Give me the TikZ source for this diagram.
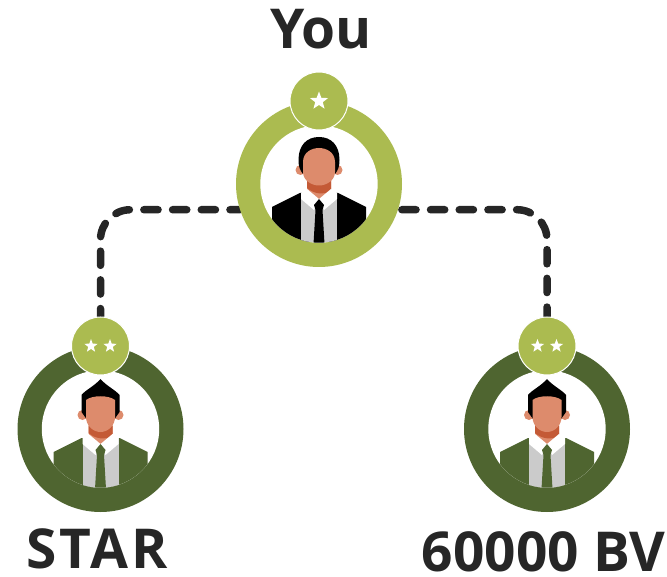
\documentclass[tikz,border=0pt]{standalone}
\usepackage{fontspec}
\setmainfont{Open Sans}
\usetikzlibrary{shapes.geometric,backgrounds}
\definecolor{lightgreen}{HTML}{ABBB50}
\definecolor{darkgreen}{HTML}{4F6530}
\definecolor{skin}{HTML}{DD8B6C}
\definecolor{neckshade}{HTML}{C45A36}
\definecolor{shirt}{HTML}{CBCBCB}
\definecolor{linegray}{HTML}{262626}
% bust clipped to the white disc of a ring: #1 suit and tie colour
\newcommand{\bust}[1]{
\clip (0,0) circle (58.7);
\fill[#1] (-47,58) -- (-47,23) -- (-19,9) -- (19,9) -- (47,23) -- (47,58) -- cycle;
\fill[shirt] (-18,9) rectangle (18,60);
\fill[skin] (-12,-12) -- (-12,9) -- (0,22) -- (12,9) -- (12,-12) -- cycle;
\fill[neckshade] (-12,-3) -- (12,-3) -- (12,7) .. controls (4,11) and (-5,10) .. (-12,4) -- cycle;
\fill[white] (-18,9) -- (-12,5) -- (0,15) -- (12,5) -- (18,9) -- (18,15) -- (5,26) -- (0,16) -- (-5,26) -- (-18,15) -- cycle;
\fill[#1] (0,15) -- (5,21) -- (3.5,26) -- (5.5,60) -- (-5.5,60) -- (-3.5,26) -- (-5,21) -- cycle;
}
\tikzset{
ring/.style={circle,inner sep=0pt,minimum size=166pt},
hole/.style={circle,inner sep=0pt,minimum size=117.4pt,fill=white},
badge/.style={circle,inner sep=0pt,minimum size=58pt,fill=lightgreen,draw=white,line width=1pt},
staricon/.style={star,star points=5,star point ratio=2.4,inner sep=0pt,minimum size=#1,fill=white},
dashlink/.style={line width=7.5pt,linegray,dash pattern=on 14.2pt off 14.5pt,line cap=round,rounded corners=30pt},
caption/.style={font=\fontsize{55}{55}\selectfont\bfseries,text=linegray,inner sep=0pt}
}
\begin{document}
\begin{tikzpicture}[x=1pt,y=-1pt]
\useasboundingbox (0,0) rectangle (667,577);
\node[ring,fill=lightgreen] (you) at (319,184) {};
\node[ring,fill=darkgreen] (left) at (100.5,429) {};
\node[ring,fill=darkgreen] (right) at (547,429) {};
\node[hole] (youhole) at (you) {};
\node[hole] (lefthole) at (left) {};
\node[hole] (righthole) at (right) {};
\begin{scope}[shift={(319,184)}]
\bust{black}
\fill[skin] (-18.5,-14) circle (5) (18.5,-14) circle (5);
\fill[black] (-16,-10) .. controls (-19,-14) and (-20.5,-17) .. (-20.5,-24) .. controls (-20.5,-39) and (-12,-47) .. (0,-47) .. controls (12,-47) and (20.5,-39) .. (20.5,-24) .. controls (20.5,-17) and (19,-14) .. (16,-10) -- cycle;
\fill[skin] (-16,-22) .. controls (-16,-32) and (-7,-36) .. (0,-36) .. controls (7,-36) and (16,-32) .. (16,-22) -- (16,-12) .. controls (16,-4) and (8,1.5) .. (0,1.5) .. controls (-8,1.5) and (-16,-4) .. (-16,-12) -- cycle;
\end{scope}
\foreach \mid in {left,right} {
\begin{scope}[shift={(\mid)}]
\bust{darkgreen}
\fill[skin] (-18,-14) circle (5) (18,-14) circle (5);
\fill[black] (-14,-10) -- (-19,-17) -- (-19,-34) .. controls (-15,-39) and (-6,-43) .. (0,-50) .. controls (6,-43) and (15,-39) .. (19,-34) -- (19,-17) -- (14,-10) -- cycle;
\fill[skin] (-14.5,-29) .. controls (-8,-34) and (8,-34) .. (14.5,-29) -- (14.5,-12) .. controls (14.5,-4) and (8,3) .. (0,3) .. controls (-8,3) and (-14.5,-4) .. (-14.5,-12) -- cycle;
\end{scope}
}
\node[badge] (youbadge) at (319,101) {};
\node[badge] (leftbadge) at (100.5,346) {};
\node[badge] (rightbadge) at (547,346) {};
\node[staricon=19pt] (youstar) at (youbadge) {};
\node[staricon=14pt] (leftstara) at (91,346) {};
\node[staricon=14pt] (leftstarb) at (110,346) {};
\node[staricon=14pt] (rightstara) at (537.5,346) {};
\node[staricon=14pt] (rightstarb) at (556.5,346) {};
\begin{scope}[on background layer]
\draw[dashlink,dash phase=4.3pt] (you.198) -| (leftbadge.north);
\draw[dashlink,dash phase=25pt] (you.-18) -| (rightbadge.north);
\end{scope}
\node[caption] (youlabel) at (321,29) {You};
\node[caption] (leftlabel) at (97,549) {\addfontfeature{LetterSpace=5}STAR};
\node[caption] (rightlabel) at (543.5,552) {60000 BV};
\end{tikzpicture}
\end{document}
